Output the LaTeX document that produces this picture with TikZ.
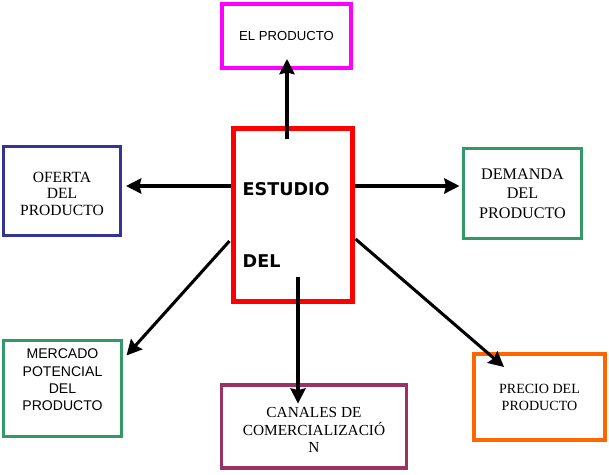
\documentclass[tikz,border=0pt]{standalone}
\usepackage{fontspec}
\setmainfont{Liberation Serif}
\setsansfont{Liberation Sans}
\newfontfamily\verdana{DejaVu Sans}
\usepackage{xcolor}
\usetikzlibrary{arrows.meta,positioning}
\definecolor{rosa}{HTML}{FF00FF}
\definecolor{rojo}{HTML}{FF0000}
\definecolor{azul}{HTML}{333399}
\definecolor{verde}{HTML}{339966}
\definecolor{morado}{HTML}{993366}
\definecolor{naranja}{HTML}{FF6600}
\tikzset{
	>={Stealth[length=13pt,width=13pt,inset=1.5pt]}, % cabeza de flecha
	caja/.style={draw, rectangle, inner sep=0pt, align=center, line width=2.6pt},
	titulo/.style={inner sep=0pt, anchor=base west, font=\verdana\bfseries\fontsize{15}{16}\selectfont},
	serif/.style={font=\rmfamily\fontsize{13.2}{14}\selectfont},
	flecha/.style={->, line width=2.6pt},
}

\begin{document}
\begin{tikzpicture}[x=0.03cm, y=-0.03cm]
      \useasboundingbox (0,0) rectangle (609,475);

      % caja central
      \node[caja, draw=rojo, line width=4.3pt, minimum width=3.57cm, minimum height=5.19cm] (estudio) at (293,215) {};
      \node[titulo] (tit1) at ([shift={(11.5,69.5)}]estudio.north west) {ESTUDIO};
      \node[titulo] (tit2) at ([shift={(11.5,141.5)}]estudio.north west) {DEL};

      % cajas de alrededor
      \node[caja, draw=rosa, line width=3.4pt, minimum width=3.87cm, minimum height=1.92cm,
            font=\sffamily\fontsize{11.2}{13}\selectfont] (producto) at (286.5,36) {EL PRODUCTO};
      \node[caja, serif, draw=azul, minimum width=3.51cm, minimum height=2.67cm,
            font=\fontsize{13.3}{13.7}\selectfont] (oferta) at (62,191) {\mbox{}\\OFERTA\\DEL\\PRODUCTO};
      \node[caja, serif, draw=verde, minimum width=3.54cm, minimum height=2.7cm,
            font=\fontsize{13.8}{16.6}\selectfont] (demanda) at (522.5,193.5) {DEMANDA\\DEL\\PRODUCTO};
      \node[caja, draw=verde, minimum width=3.54cm, minimum height=2.88cm,
            font=\sffamily\fontsize{12}{14.8}\selectfont] (mercado) at (62.5,388.5) {MERCADO\\POTENCIAL\\DEL\\PRODUCTO\\\mbox{}};
      \node[caja, serif, draw=morado, line width=3pt, minimum width=5.54cm, minimum height=2.5cm,
            font=\fontsize{13.1}{15}\selectfont] (canales) at (314,426.5) {\mbox{}\\CANALES DE\\COMERCIALIZACIÓ\\N};
      \node[caja, serif, draw=naranja, line width=3.4pt, minimum width=3.93cm, minimum height=2.58cm,
            font=\fontsize{12}{14.5}\selectfont] (precio) at (539.5,397) {PRECIO DEL\\PRODUCTO};

      % flechas
      \draw[flecha] ([shift={(-6,13.5)}]estudio.north) -- ([shift={(0.5,-11)}]producto.south);
      \draw[flecha] ([shift={(0,-29)}]estudio.west) -- ([shift={(4,-5)}]oferta.east);
      \draw[flecha] ([shift={(0,-29)}]estudio.east) -- ([shift={(-2.5,-7.5)}]demanda.west);
      \draw[flecha] ([shift={(5,-27.5)}]estudio.south) -- ([shift={(-16,20.5)}]canales.north);
      \draw[flecha] ([shift={(-1.5,26)}]estudio.west) -- ([shift={(3.5,16.5)}]mercado.north east);
      \draw[flecha] ([shift={(0.5,24)}]estudio.east) -- ([shift={(32,15)}]precio.north west);
    
    \end{tikzpicture}
\end{document}
